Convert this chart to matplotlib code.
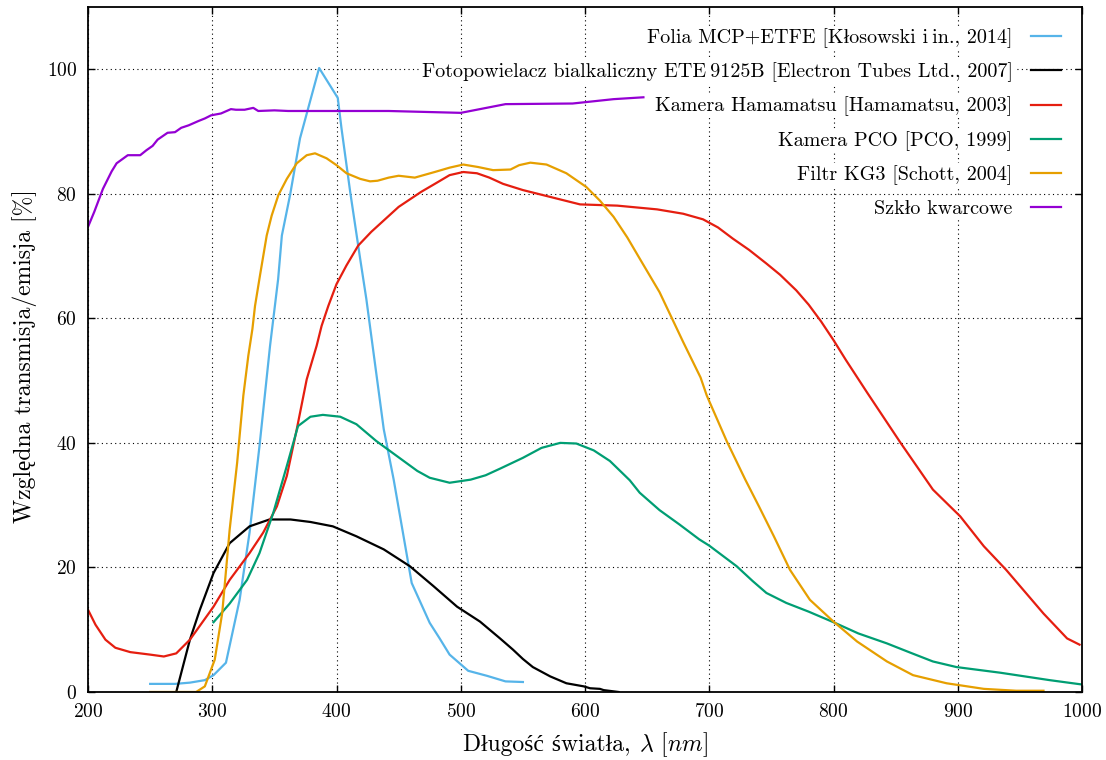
import matplotlib
matplotlib.use('Agg')
import matplotlib.pyplot as plt
from matplotlib.offsetbox import TextArea, HPacker, AnchoredOffsetbox
import numpy as np

plt.rcParams['font.family'] = ['cmr10', 'Liberation Serif']
plt.rcParams['mathtext.fontset'] = 'cm'
plt.rcParams['axes.formatter.use_mathtext'] = True
plt.rcParams['axes.unicode_minus'] = False

# Folia MCP+ETFE
mcp_x = [250, 270, 282, 294, 301, 311, 322, 330, 338, 346.5, 353, 356, 362.6, 370.6, 386, 401, 404, 411, 419, 424, 438, 446, 460.5, 475, 483, 491, 506, 521, 536, 550]
mcp_y = [1.3, 1.3, 1.5, 1.9, 2.7, 4.7, 14.8, 25.6, 39.5, 55.6, 66.3, 73.3, 79.8, 88.9, 100.2, 95.4, 90.5, 80.3, 69.6, 63.1, 42.2, 34.1, 17.5, 11.1, 8.6, 6.0, 3.4, 2.6, 1.7, 1.6]

# Fotopowielacz
pmt_x = [271, 282, 290, 301, 314, 330, 346, 363, 379, 397, 416, 438, 459, 478, 497, 515.5, 531.6, 542, 550, 558, 572, 585, 599, 604, 612, 615, 627]
pmt_y = [0, 8.4, 13.2, 19.1, 23.9, 26.6, 27.7, 27.7, 27.3, 26.6, 25.0, 22.9, 20.2, 17.0, 13.7, 11.3, 8.6, 6.8, 5.3, 4.0, 2.5, 1.4, 0.9, 0.6, 0.5, 0.3, 0]

# Kamera Hamamatsu
ham_x = [200, 206, 214, 222, 234, 250, 261, 271, 282, 301, 314, 330, 341, 352, 360, 368, 376, 384, 388, 393.4, 400, 408, 417.5, 428, 450, 468, 480, 491, 502, 513, 523, 534,
         550, 572, 596, 626, 658, 679, 695, 707, 719, 732, 746, 757, 770, 780, 790, 800, 810, 827, 854, 880, 902, 921, 939, 969, 988, 998]
ham_y = [13.2, 10.8, 8.4, 7.1, 6.4, 6.0, 5.7, 6.2, 8.4, 13.7, 18.0, 22.3, 25.6, 29.8, 34.7, 42.2, 50.2, 55.6, 58.8, 62.0, 65.5, 68.5, 71.7, 73.9, 77.9, 80.3, 81.7, 83.0, 83.5, 83.3, 82.6, 81.6,
         80.6, 79.5, 78.3, 78.1, 77.5, 76.8, 75.9, 74.6, 72.8, 71.0, 68.8, 67.0, 64.5, 62.2, 59.5, 56.5, 53.3, 48.1, 40.0, 32.5, 28.2, 23.4, 19.6, 12.6, 8.6, 7.6]

# Kamera PCO
pco_x = [301, 314, 328, 338, 349, 360, 369, 379, 389, 403, 416, 432, 454, 465, 475, 491, 508, 520, 532, 550, 565, 580, 593, 607, 620, 636, 644, 660, 676, 692, 700,
         722, 735, 746, 762, 780, 800, 820, 843, 862, 880, 899, 934, 974, 1000]
pco_y = [11.2, 14.2, 18.0, 22.3, 28.7, 36.3, 42.7, 44.2, 44.5, 44.2, 43.0, 40.3, 37.1, 35.5, 34.4, 33.6, 34.1, 34.8, 35.9, 37.6, 39.2, 40.0, 39.9, 38.8, 37.1, 34.0, 32.0, 29.2, 26.9, 24.5, 23.5,
         20.2, 17.8, 15.9, 14.3, 12.9, 11.2, 9.4, 7.8, 6.3, 4.9, 4.0, 3.1, 1.9, 1.2]

# Filtr KG3
kg3_x = [250, 287, 294, 302, 308, 314, 320, 325, 329, 332.3, 334.4, 338.4, 341.1, 343.8, 347.8, 353.2, 360, 368, 376, 382.7, 392, 400, 408, 419, 427, 433, 442, 450,
         463, 479, 491, 502, 514, 526, 540, 547, 556, 569, 585, 601, 612, 623, 634, 644, 660, 679, 693, 698, 714, 729, 740, 752, 765, 781, 800, 819, 843, 864, 891, 921, 947, 969]
kg3_y = [0, 0, 0.9, 5.2, 12.7, 26.1, 36.8, 47.6, 54.0, 58.3, 62.0, 66.9, 70.1, 73.3, 76.5, 79.8, 82.4, 84.9, 86.2, 86.5, 85.7, 84.6, 83.3, 82.4, 82.0, 82.1, 82.6, 82.9,
         82.6, 83.5, 84.2, 84.7, 84.3, 83.8, 83.9, 84.6, 85.0, 84.7, 83.3, 81.1, 78.9, 76.3, 73.0, 69.6, 64.2, 56.2, 50.5, 47.6, 40.3, 34.1, 29.8, 25.0, 19.6, 14.8, 11.3, 8.1, 4.9, 2.7, 1.4, 0.5, 0.2, 0.2]

# Szklo kwarcowe
quartz_x = [200, 205, 212, 219, 223, 232, 242, 247, 252, 256, 264, 270, 275, 281, 289, 294, 299, 307, 315, 319, 326, 333, 337, 350, 361, 442, 500, 536, 590, 623, 647]
quartz_y = [74.7, 77.1, 80.8, 83.6, 84.9, 86.2, 86.2, 87.0, 87.7, 88.7, 89.8, 89.9, 90.6, 91.0, 91.7, 92.1, 92.6, 92.9, 93.6, 93.5, 93.5, 93.8, 93.3, 93.4, 93.3, 93.3, 93.0, 94.4, 94.5, 95.2, 95.5]

labels = ['Folia MCP+ETFE [Kłosowski i\u2009in., 2014]',
          'Fotopowielacz bialkaliczny ETE\u20099125B [Electron Tubes Ltd., 2007]',
          'Kamera Hamamatsu [Hamamatsu, 2003]',
          'Kamera PCO [PCO, 1999]',
          'Filtr KG3 [Schott, 2004]',
          'Szkło kwarcowe']
colors = ['#56b4e9', '#000000', '#e51e10', '#009e73', '#e69f00', '#9400d3']

fig = plt.figure(figsize=(11.06, 7.6), dpi=100)
ax = fig.add_axes([0.0796, 0.0895, 0.8987, 0.9013])

series = [(mcp_x, mcp_y), (pmt_x, pmt_y), (ham_x, ham_y), (pco_x, pco_y), (kg3_x, kg3_y), (quartz_x, quartz_y)]
for (xs, ys), lab, c in zip(series, labels, colors):
    ax.plot(xs, ys, color=c, lw=1.6, label=lab)

ax.set_xlim(200, 1000)
ax.set_ylim(0, 110)
ax.set_xticks(np.arange(200, 1001, 100))
ax.set_yticks(np.arange(0, 101, 20))
ax.grid(True, color='black', linestyle=(0, (1, 3)), linewidth=0.8)
ax.tick_params(direction='in', top=True, right=True, length=5, width=1, labelsize=14, pad=8)
for s in ax.spines.values():
    s.set_linewidth(1.3)

# x label: plain text part + math part (cm font has no Polish glyphs in mathtext)
ta1 = TextArea('Długość światła,', textprops=dict(fontsize=17))
ta2 = TextArea('$\\lambda$ [$nm$]', textprops=dict(fontsize=17))
box = HPacker(children=[ta1, ta2], align='baseline', pad=0, sep=6)
xl = AnchoredOffsetbox(loc='upper center', child=box, pad=0, borderpad=0, frameon=False,
                       bbox_to_anchor=(0.5, -0.056), bbox_transform=ax.transAxes)
ax.add_artist(xl)
ax.set_ylabel('Względna transmisja/emisja [%]', fontsize=17)
ax.yaxis.set_label_coords(-0.051, 0.49)

leg = ax.legend(loc='upper right', frameon=False, markerfirst=False, fontsize=14.5,
                handlelength=1.5, labelspacing=0.72, borderaxespad=0.65, handletextpad=0.9)
for t in leg.get_texts():
    t.set_bbox(dict(facecolor='white', edgecolor='none', pad=1.5))

fig.savefig('out.png', dpi=100)
